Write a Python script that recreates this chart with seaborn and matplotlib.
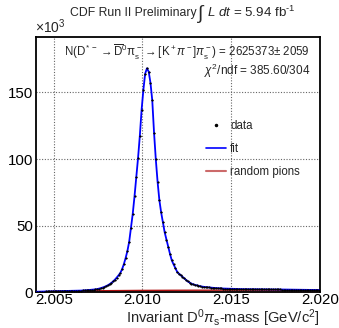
import numpy as np
import pandas as pd
import matplotlib
matplotlib.use("Agg")
import matplotlib.pyplot as plt
import seaborn as sns
from matplotlib.lines import Line2D
from matplotlib.ticker import MultipleLocator, FormatStrFormatter

# ---------------- data (in units of 10^3) -------------
bin_lo = 2.004
bin_width = 0.0001
counts_k = [
    0.50, 0.55, 0.60, 0.62, 0.66, 0.70, 0.73, 0.77, 0.80, 0.84,
    0.87, 0.90, 0.93, 0.96, 0.99, 1.02, 1.05, 1.08, 1.11, 1.14,
    1.17, 1.20, 1.23, 1.26, 1.29, 1.36, 1.45, 1.55, 1.65, 1.77,
    1.89, 2.01, 2.15, 2.29, 2.49, 2.82, 3.19, 3.62, 4.11, 4.69,
    5.35, 6.20, 7.17, 8.30, 9.63, 11.15, 12.8, 14.6, 17.4, 21.2,
    25.8, 31.1, 38.0, 48.5, 58.9, 72.0, 86.6, 100.9, 117.5, 137.0,
    152.0, 164.0, 168.0, 165.5, 157.0, 144.0, 119.8, 99.7, 82.9, 69.2,
    60.0, 52.6, 45.0, 39.6, 34.3, 28.8, 24.0, 21.0, 18.3, 15.5,
    14.1, 12.9, 11.7, 10.5, 9.3, 8.2, 7.4, 6.65, 6.0, 5.63,
    5.28, 4.96, 4.65, 4.36, 4.14, 4.00, 3.85, 3.72, 3.59, 3.46,
    3.34, 3.22, 3.11, 3.00, 2.94, 2.89, 2.83, 2.78, 2.73, 2.68,
    2.63, 2.57, 2.52, 2.49, 2.48, 2.47, 2.46, 2.45, 2.44, 2.43,
    2.42, 2.41, 2.40, 2.39, 2.38, 2.37, 2.36, 2.34, 2.33, 2.32,
    2.31, 2.30, 2.28, 2.27, 2.25, 2.23, 2.21, 2.19, 2.17, 2.15,
    2.13, 2.11, 2.09, 2.08, 2.06, 2.04, 2.02, 2.00, 1.98, 1.96,
    1.94, 1.92, 1.90, 1.89, 1.87, 1.85, 1.83, 1.81, 1.79, 1.77,
]
fit_k = list(counts_k)
bkg_mass = [2.0044, 2.0050, 2.0060, 2.0080, 2.0100, 2.0120, 2.0150, 2.0200]
bkg_k = [0.0, 0.8, 1.0, 1.3, 1.5, 1.6, 1.7, 1.75]

x_ticks = [2.005, 2.010, 2.015, 2.020]
y_ticks = [0, 50, 100, 150]

title_left = "CDF Run II Preliminary"
title_right = r"$L\ dt$ = 5.94 fb$^{\rm \text{-}1}$"
n_text = (r"N(D$^{\rm *-}$ $\!\!\rightarrow\!\!$ $\overline{\rm D}^{\rm 0}\pi^{\rm -}_{\rm s}$ $\!\!\rightarrow\!\!$ "
          r"[K$^{\rm +}\pi^{\rm -}$]$\pi^{\rm -}_{\rm s}$) = 2625373$\pm$ 2059")
chi_text = r"$\chi^{\rm 2}$/ndf = 385.60/304"
xlabel_text = r"Invariant D$^{\rm 0}\pi_{\rm s}$-mass [GeV/c$^{\rm 2}$]"

# ---------------- style ----------------
sns.set_style("white")
plt.rcParams["font.family"] = ["Liberation Sans", "DejaVu Sans"]
plt.rcParams["mathtext.fontset"] = "custom"
plt.rcParams["mathtext.rm"] = "Liberation Sans"
plt.rcParams["mathtext.it"] = "Liberation Sans:italic"
plt.rcParams["mathtext.bf"] = "Liberation Sans:bold"
plt.rcParams["mathtext.sf"] = "Liberation Sans"

W, H = 339, 328
fig = plt.figure(figsize=(W / 100, H / 100), dpi=100)
fig.patch.set_facecolor("white")
ax = fig.add_axes([36 / W, 1 - 292.4 / H, (320 - 36) / W, (292.4 - 37) / H])

centers = bin_lo + bin_width * (np.arange(len(counts_k)) + 0.5)
df = pd.DataFrame({"mass": centers, "counts": counts_k, "fit": fit_k})
bdf = pd.DataFrame({"mass": bkg_mass, "bkg": bkg_k})

# background (random pions)
ax.fill_between(bdf["mass"], 0, bdf["bkg"], color="#eeb0b0", lw=0, zorder=1)
sns.lineplot(data=bdf, x="mass", y="bkg", ax=ax, color="#b01010", lw=1.0, zorder=2)
# fit
sns.lineplot(data=df, x="mass", y="fit", ax=ax, color="#0000ff", lw=1.3, zorder=3)
# data
ax.errorbar(df["mass"], df["counts"], xerr=bin_width / 2, fmt="none",
            ecolor="black", elinewidth=0.5, zorder=4)
sns.scatterplot(data=df, x="mass", y="counts", ax=ax, color="black", s=2.5,
                linewidth=0, zorder=5)

ax.set_xlim(2.004, 2.020)
ax.set_ylim(0, 191.5)
ax.set_xlabel("")
ax.set_ylabel("")
ax.set_xticks(x_ticks)
ax.set_yticks(y_ticks)
ax.xaxis.set_minor_locator(MultipleLocator(0.001))
ax.yaxis.set_minor_locator(MultipleLocator(10))
ax.xaxis.set_major_formatter(FormatStrFormatter("%.3f"))
ax.tick_params(which="both", direction="in", colors="black", labelsize=10.8, width=1)
ax.tick_params(which="major", length=8)
ax.tick_params(which="minor", length=4)
ax.tick_params(axis="x", pad=0.5)
ax.tick_params(axis="y", pad=2)
for s in ax.spines.values():
    s.set_color("black")
    s.set_linewidth(1.3)

for xv in x_ticks[:-1]:
    ax.axvline(xv, color="#666666", ls=(0, (1, 1.5)), lw=0.8, zorder=0.5)
for yv in y_ticks[1:]:
    ax.axhline(yv, color="#666666", ls=(0, (1, 1.5)), lw=0.8, zorder=0.5)

# legend
handles = [
    Line2D([], [], marker=".", color="black", ls="none", markersize=3),
    Line2D([], [], color="#0000ff", lw=1.2),
    Line2D([], [], color="#cc6a6a", lw=1.5),
]
leg = ax.legend(handles, ["data", "fit", "random pions"], loc="upper left",
                bbox_to_anchor=(206 / W, 1 - 120 / H), bbox_transform=fig.transFigure,
                frameon=False, fontsize=8.3, handlelength=1.7, handletextpad=0.4,
                labelspacing=0.95, borderpad=0, borderaxespad=0)

# texts
fig.text(197 / W, 1 - 13 / H, title_left, fontsize=8.8, va="center", ha="right")
fig.text(202 / W, 1 - 14 / H, r"$\int$", fontsize=14, va="center", ha="center")
fig.text(207 / W, 1 - 12 / H, title_right, fontsize=9.6, va="center", ha="left")
fig.text(35 / W, 1 - 27 / H, r"$\times$10$^{\rm 3}$", fontsize=10, va="center", ha="left")
fig.text(310 / W, 1 - 52 / H, n_text, fontsize=8.3, va="center", ha="right")
fig.text(310 / W, 1 - 71 / H, chi_text, fontsize=8.5, va="center", ha="right")
fig.text(320 / W, 1 - 318 / H, xlabel_text, fontsize=10.6, va="center", ha="right")

fig.savefig("out.png", dpi=100)
